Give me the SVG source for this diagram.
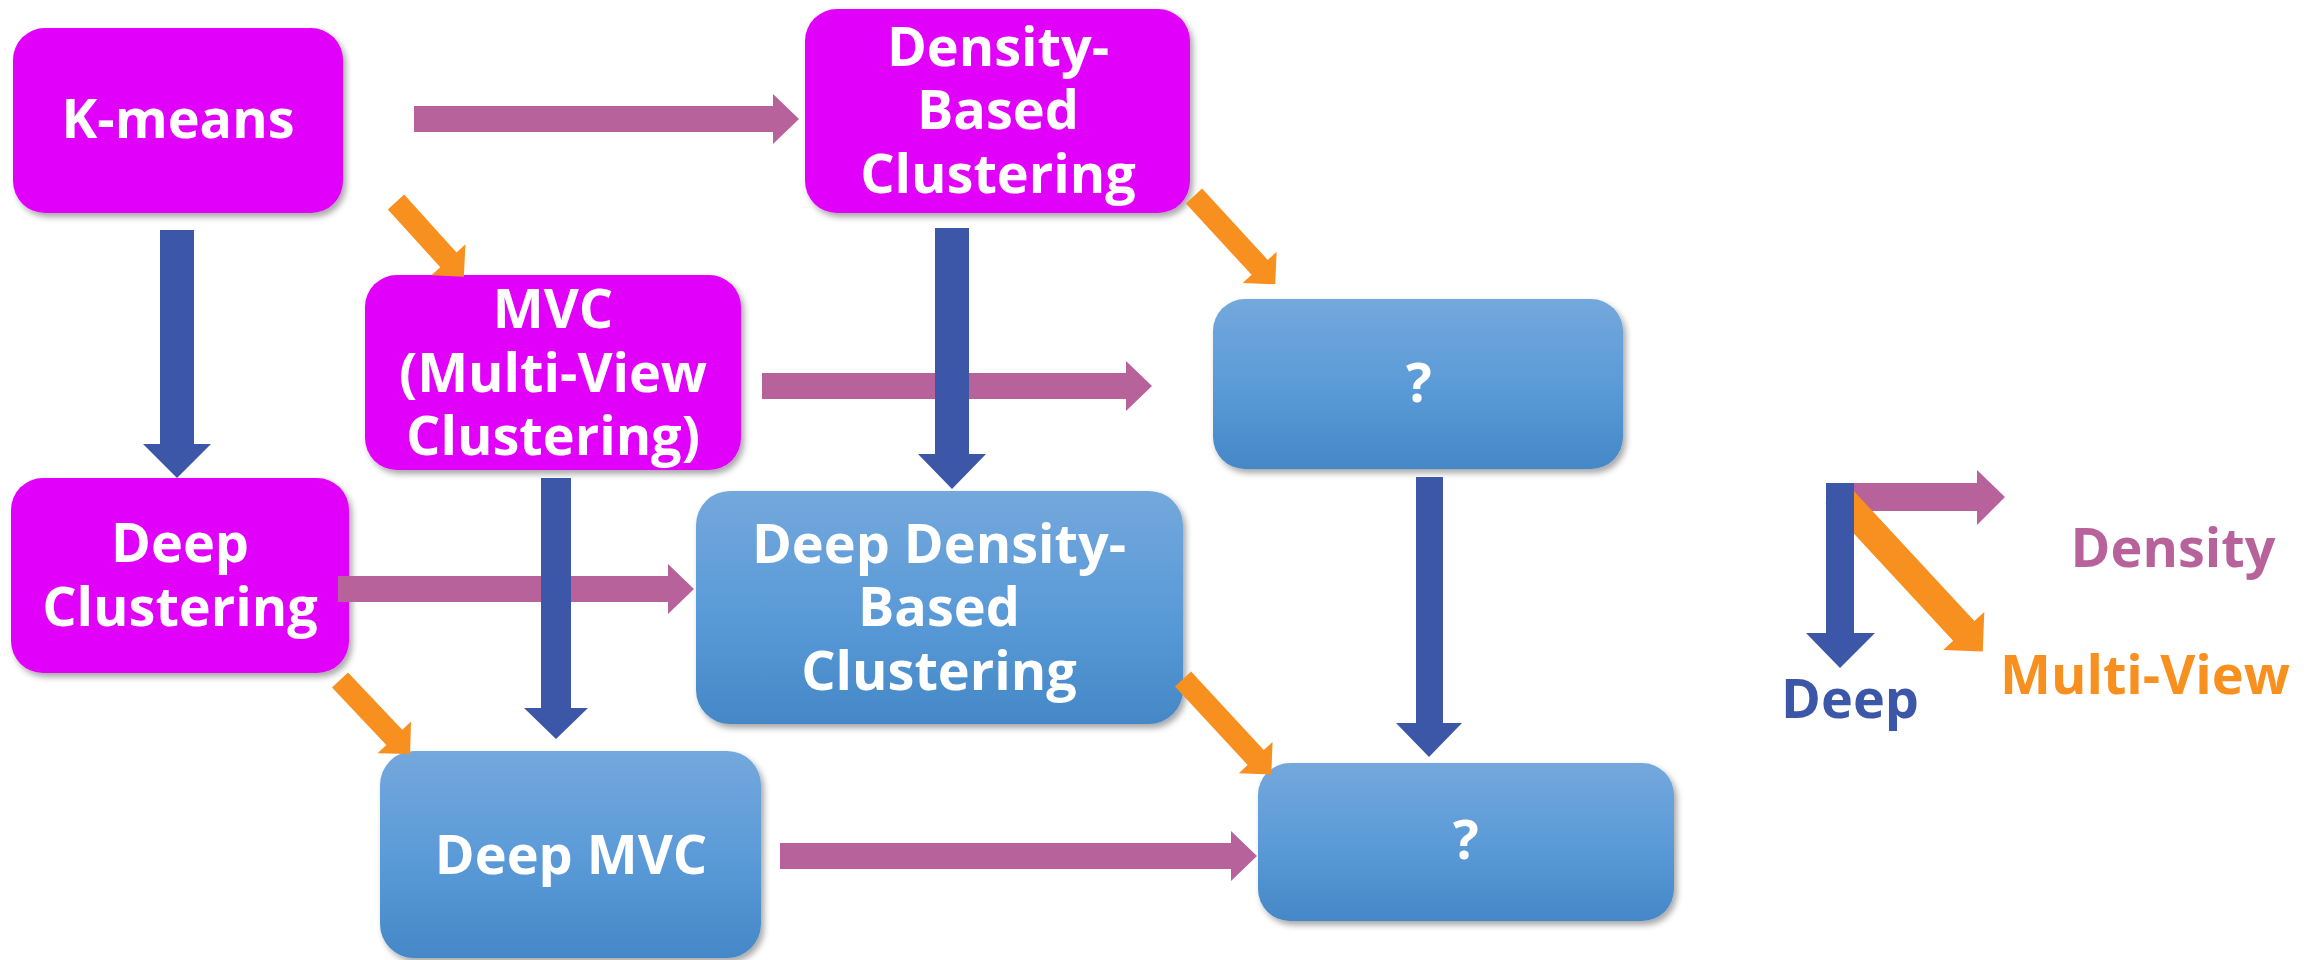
<svg xmlns="http://www.w3.org/2000/svg" width="2320" height="960" viewBox="0 0 2320 960">
<style>
  .mag { fill: #e100fa; filter: url(#sh); }
  .blu { fill: url(#bg); filter: url(#sh); }
  .t { font-family: "Open Sans", "Noto Sans", sans-serif; font-weight: bold; font-size: 54px; fill: #ffffff; text-anchor: middle; }
  .lg { font-family: "Open Sans", "Noto Sans", sans-serif; font-weight: bold; font-size: 54px; text-anchor: middle; }
  .ap { fill: #b8629b; }
  .ab { fill: #3d57a8; }
  .ao { fill: #f7901e; }
</style>
<defs>
  <linearGradient id="bg" x1="0" y1="0" x2="0" y2="1">
    <stop offset="0" stop-color="#74a8dc"/>
    <stop offset="0.5" stop-color="#5b9bd8"/>
    <stop offset="1" stop-color="#4588c7"/>
  </linearGradient>
  <filter id="sh" x="-10%" y="-10%" width="125%" height="130%">
    <feDropShadow dx="3" dy="4" stdDeviation="3" flood-color="#000" flood-opacity="0.35"/>
  </filter>
</defs>
<rect width="2320" height="960" fill="#ffffff"/>

<g id="kmeans">
  <rect class="mag" x="13" y="28" width="330" height="185" rx="32"/>
  <text class="t" x="178" y="138">K-means</text>
</g>
<g id="mvc">
  <rect class="mag" x="365" y="275" width="376" height="195" rx="32"/>
  <text class="t" x="553" y="328">MVC</text>
  <text class="t" x="553" y="392">(Multi-View</text>
  <text class="t" x="553" y="455">Clustering)</text>
</g>
<g id="density">
  <rect class="mag" x="805" y="9" width="385" height="204" rx="32"/>
  <text class="t" x="998" y="66">Density-</text>
  <text class="t" x="998" y="129">Based</text>
  <text class="t" x="998" y="193">Clustering</text>
</g>
<g id="q1">
  <rect class="blu" x="1213" y="299" width="410" height="170" rx="32"/>
  <text class="t" x="1419" y="402">?</text>
</g>
<g id="deepclustering">
  <rect class="mag" x="11" y="478" width="338" height="195" rx="32"/>
  <text class="t" x="180" y="562">Deep</text>
  <text class="t" x="180" y="626">Clustering</text>
</g>
<g id="deepdensity">
  <rect class="blu" x="696" y="491" width="487" height="233" rx="34"/>
  <text class="t" x="939" y="563">Deep Density-</text>
  <text class="t" x="939" y="626">Based</text>
  <text class="t" x="939" y="690">Clustering</text>
</g>
<g id="deepmvc">
  <rect class="blu" x="380" y="751" width="381" height="207" rx="34"/>
  <text class="t" x="571" y="874">Deep MVC</text>
</g>
<g id="q2">
  <rect class="blu" x="1258" y="763" width="416" height="158" rx="32"/>
  <text class="t" x="1466" y="859">?</text>
</g>

<g id="connectors">
  <polygon class="ap" points="414,106 773,106 773,94 799,119 773,144 773,132 414,132"/>
  <polygon class="ap" points="762,373 1126,373 1126,361 1152,386 1126,411 1126,399 762,399"/>
  <polygon class="ap" points="338,576 668,576 668,564 694,589 668,614 668,602 338,602"/>
  <polygon class="ap" points="780,843 1231,843 1231,831 1257,856 1231,881 1231,869 780,869"/>

  <path class="ao" transform="translate(396,202) rotate(47.8)" d="M0,-11 L78,-11 L78,-23 L101,0 L78,23 L78,11 L0,11 Z"/>
  <path class="ao" transform="translate(1194,196) rotate(47.4)" d="M0,-11 L97,-11 L97,-23 L120,0 L97,23 L97,11 L0,11 Z"/>
  <path class="ao" transform="translate(340,680) rotate(46.6)" d="M0,-11 L79,-11 L79,-23 L102,0 L79,23 L79,11 L0,11 Z"/>
  <path class="ao" transform="translate(1183,679) rotate(47.2)" d="M0,-11 L107,-11 L107,-23 L130,0 L107,23 L107,11 L0,11 Z"/>

  <polygon class="ab" points="160,230 194,230 194,444 211,444 177,478 143,444 160,444"/>
  <polygon class="ab" points="541,478 571,478 571,708 588,708 556,739 524,708 541,708"/>
  <polygon class="ab" points="935,228 969,228 969,454 986,454 952,489 918,454 935,454"/>
  <polygon class="ab" points="1416,477 1443,477 1443,723 1462,723 1429,757 1396,723 1416,723"/>
</g>

<g id="legend">
  <polygon class="ap" points="1826,483 1977,483 1977,470 2005,497 1977,525 1977,511 1826,511"/>
  <path class="ao" transform="translate(1836,493) rotate(47.2)" d="M0,-14.5 L188,-14.5 L188,-28 L216,0 L188,28 L188,14.5 L0,14.5 Z"/>
  <polygon class="ab" points="1826,483 1854,483 1854,633 1875,633 1840,668 1806,633 1826,633"/>
  <text class="lg" x="2173" y="567" fill="#b8629b">Density</text>
  <text class="lg" x="2145" y="694" fill="#f7901e">Multi-View</text>
  <text class="lg" x="1850" y="718" fill="#3d57a8">Deep</text>
</g>
</svg>
